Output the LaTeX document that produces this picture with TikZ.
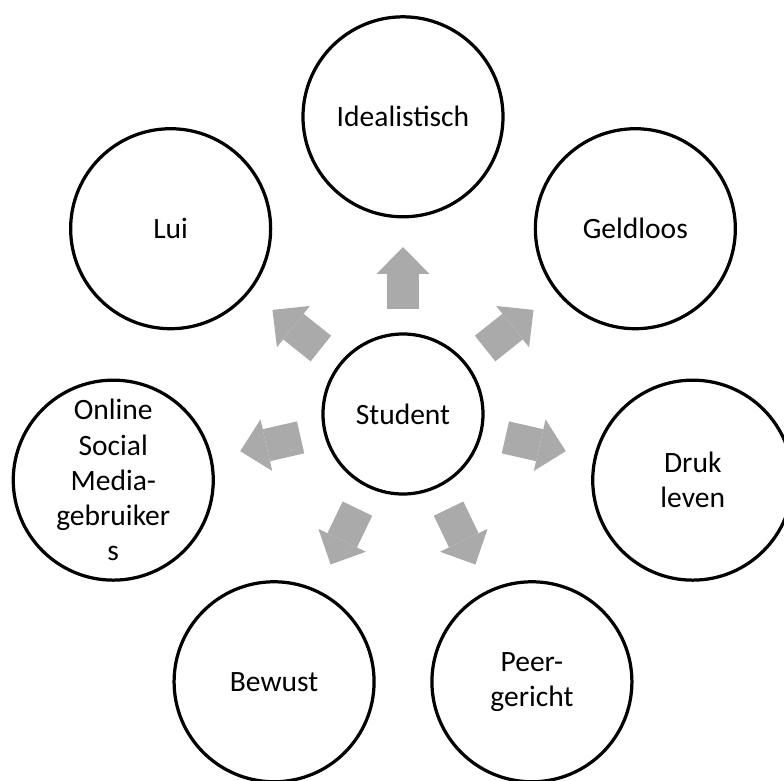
\documentclass[tikz,border=0pt]{standalone}
\usepackage{fontspec}
\setmainfont{Carlito}
\usetikzlibrary{graphs, arrows.meta}

\definecolor{arrowgray}{RGB}{170,170,170}

\begin{document}
\begin{tikzpicture}[
    trait/.style={draw, circle, line width=2.3pt, minimum size=5cm, inner sep=0pt,
                  align=center, font=\fontsize{21pt}{25pt}\selectfont},
    core/.style={trait, minimum size=4cm},
    blockarrow/.style={draw=arrowgray, line width=0.82cm,
                       -{Triangle[width=1.32cm, length=0.67cm, line width=0pt]},
                       shorten <=0.585cm, shorten >=0.715cm}
]
    \useasboundingbox (-10.075,-9.15) rectangle (9.525,10.35);

    % 中間一個圓,外面七個圓
    \node[core]                     (student) at (0,0)           {Student};
    \node[trait]                    (ideal)   at (90:7.43)       {Idealistisch};
    \node[trait]                    (geld)    at (38.57:7.43)    {Geldloos};
    \node[trait]                    (druk)    at (-12.86:7.43)   {Druk\\leven};
    \node[trait]                    (peer)    at (-64.29:7.43)   {Peer-\\gericht};
    \node[trait]                    (bewust)  at (-115.71:7.43)  {Bewust};
    \node[trait, inner sep=-4pt]    (online)  at (192.86:7.43)   {Online\\Social\\Media-\\gebruiker\\s};
    \node[trait]                    (lui)     at (141.43:7.43)   {Lui};

    \graph[edges=blockarrow]{
        (student) -> {(ideal), (geld), (druk), (peer), (bewust), (online), (lui)};
    };
\end{tikzpicture}
\end{document}
